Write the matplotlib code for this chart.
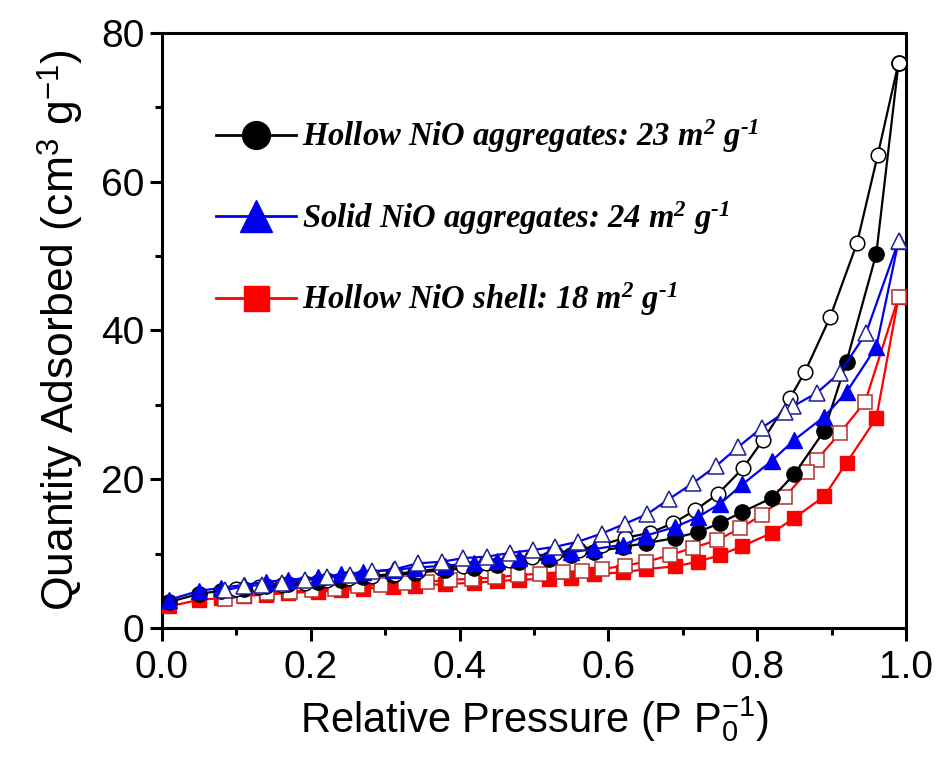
import matplotlib
matplotlib.use("Agg")
import matplotlib.pyplot as plt
from matplotlib.lines import Line2D
from matplotlib.ticker import MultipleLocator, FormatStrFormatter

plt.rcParams['font.family'] = ['Liberation Sans', 'DejaVu Sans']
plt.rcParams['mathtext.fontset'] = 'custom'
plt.rcParams['mathtext.rm'] = 'Liberation Serif:bold:italic'
plt.rcParams['mathtext.it'] = 'Liberation Serif:bold:italic'
plt.rcParams['mathtext.sf'] = 'Liberation Sans'

# adsorption branch, shared pressure points
p_ads = [0.01, 0.05, 0.08, 0.11, 0.14, 0.17, 0.21, 0.24, 0.27, 0.31, 0.34, 0.38,
         0.42, 0.45, 0.48, 0.52, 0.55, 0.58, 0.62, 0.65, 0.69, 0.72, 0.75, 0.78,
         0.82, 0.85, 0.89, 0.92, 0.96, 0.99]

hollow_agg_ads = [3.5, 4.6, 5.0, 5.3, 5.6, 5.9, 6.2, 6.5, 6.8, 7.1, 7.4, 7.8,
                  8.1, 8.5, 8.9, 9.3, 9.8, 10.2, 10.9, 11.4, 12.1, 12.9, 14.1, 15.6,
                  17.5, 20.7, 26.5, 35.8, 50.3, 76.0]
solid_agg_ads = [3.8, 5.0, 5.4, 5.8, 6.2, 6.5, 6.8, 7.2, 7.5, 7.8, 8.1, 8.4,
                 8.7, 9.0, 9.4, 9.8, 10.2, 10.6, 11.2, 12.4, 13.6, 14.9, 16.7, 19.3,
                 22.5, 25.3, 28.4, 31.7, 37.8, 52.0]
hollow_shell_ads = [2.9, 3.8, 4.0, 4.3, 4.5, 4.7, 4.9, 5.1, 5.3, 5.5, 5.7, 5.9,
                    6.1, 6.3, 6.5, 6.6, 6.7, 7.2, 7.5, 7.9, 8.3, 8.9, 9.8, 11.0,
                    12.8, 14.8, 17.7, 22.2, 28.2, 44.5]

# desorption branches
p_des_hollow_agg = [0.99, 0.962, 0.934, 0.898, 0.864, 0.844, 0.808, 0.781, 0.747, 0.716,
                    0.687, 0.656, 0.622, 0.591, 0.56, 0.528, 0.497, 0.466, 0.436, 0.405,
                    0.375, 0.344, 0.313, 0.282, 0.252, 0.222, 0.192, 0.161, 0.13, 0.10]
hollow_agg_des = [76.0, 63.6, 51.7, 41.8, 34.4, 30.9, 25.3, 21.5, 18.0, 15.8,
                  14.1, 12.8, 12.1, 11.2, 10.5, 10.1, 9.6, 9.2, 8.8, 8.4,
                  8.0, 7.6, 7.3, 7.0, 6.7, 6.4, 6.1, 5.8, 5.5, 5.2]

p_des_solid_agg = [0.99, 0.946, 0.911, 0.880, 0.848, 0.837, 0.806, 0.774, 0.745, 0.714,
                   0.681, 0.652, 0.622, 0.591, 0.559, 0.528, 0.499, 0.468, 0.437, 0.405,
                   0.376, 0.344, 0.313, 0.282, 0.253, 0.222, 0.192, 0.161, 0.135, 0.11, 0.085]
solid_agg_des = [52.0, 39.6, 34.3, 31.6, 29.8, 29.0, 26.9, 24.3, 21.8, 19.5,
                 17.3, 15.3, 14.0, 12.7, 11.6, 10.9, 10.5, 10.1, 9.6, 9.4,
                 8.9, 8.7, 7.9, 7.6, 7.1, 6.8, 6.5, 6.0, 5.8, 5.6, 5.1]

p_des_hollow_shell = [0.99, 0.945, 0.911, 0.880, 0.867, 0.837, 0.806, 0.777, 0.746, 0.714,
                      0.683, 0.651, 0.622, 0.591, 0.565, 0.539, 0.508, 0.478, 0.448, 0.417,
                      0.387, 0.356, 0.327, 0.294, 0.263, 0.233, 0.202, 0.172, 0.141, 0.11, 0.085]
hollow_shell_des = [44.5, 30.4, 26.2, 22.6, 21.0, 17.6, 15.2, 13.4, 11.8, 10.8,
                    9.8, 8.9, 8.4, 7.9, 7.7, 7.5, 7.3, 7.1, 6.8, 6.6,
                    6.5, 6.2, 6.0, 5.8, 5.6, 5.3, 5.1, 4.9, 4.7, 4.3, 3.9]

labels = ['Hollow NiO aggregates: 23 m$^{2}$ g$^{\\text{-1}}$',
          'Solid NiO aggregates: 24 m$^{2}$ g$^{\\text{-1}}$',
          'Hollow NiO shell: 18 m$^{2}$ g$^{\\text{-1}}$']

fig = plt.figure(figsize=(9.36, 7.64), dpi=100)
ax = fig.add_axes([0.173, 0.178, 0.795, 0.779])

lw = 1.6
# hollow shell (red)
ax.plot(p_ads, hollow_shell_ads, '-s', color='#ff0000', lw=lw, ms=9.5,
        mfc='#ff0000', mec='#ff0000', zorder=3)
ax.plot(p_des_hollow_shell, hollow_shell_des, '-s', color='#ff0000', lw=lw, ms=9.5,
        mfc='white', mec='#b03030', mew=1.1, zorder=3)
# hollow aggregates (black)
ax.plot(p_ads, hollow_agg_ads, '-o', color='black', lw=lw, ms=11,
        mfc='black', mec='black', zorder=4)
ax.plot(p_des_hollow_agg, hollow_agg_des, '-o', color='black', lw=lw, ms=10.5,
        mfc='white', mec='black', mew=1.1, zorder=4)
# solid aggregates (blue)
ax.plot(p_ads, solid_agg_ads, '-^', color='#0000ee', lw=lw, ms=12,
        mfc='#0000ee', mec='#0000ee', zorder=5)
ax.plot(p_des_solid_agg, solid_agg_des, '-^', color='#0000ee', lw=lw, ms=12,
        mfc='white', mec='#202090', mew=1.1, zorder=5)

ax.set_xlim(0, 1.0)
ax.set_ylim(0, 80)
ax.xaxis.set_major_locator(MultipleLocator(0.2))
ax.xaxis.set_minor_locator(MultipleLocator(0.1))
ax.yaxis.set_major_locator(MultipleLocator(20))
ax.yaxis.set_minor_locator(MultipleLocator(10))
ax.xaxis.set_major_formatter(FormatStrFormatter('%.1f'))
ax.tick_params(which='both', direction='out', top=False, right=False, width=2.2)
ax.tick_params(which='major', length=9, labelsize=28)
ax.tick_params(axis='x', which='major', pad=7)
ax.tick_params(which='minor', length=5)
for s in ax.spines.values():
    s.set_linewidth(2.2)

ax.set_xlabel('Relative Pressure (P P$_{\\mathsf{0}}^{\\mathsf{-1}}$)', fontsize=30, labelpad=6)
ax.set_ylabel('Quantity Adsorbed (cm$^{\\mathsf{3}}$ g$^{\\mathsf{-1}}$)', fontsize=32, labelpad=12)

handles = [
    Line2D([], [], color='black', lw=2, marker='o', ms=20, mfc='black', mec='black'),
    Line2D([], [], color='#0000ee', lw=2, marker='^', ms=23, mfc='#0000ee', mec='#0000ee'),
    Line2D([], [], color='#ff0000', lw=2, marker='s', ms=18, mfc='#ff0000', mec='#ff0000'),
]
ax.legend(handles, labels, loc='upper left', bbox_to_anchor=(0.055, 0.88),
          frameon=False, handlelength=2.45, handletextpad=0.2, labelspacing=1.35,
          prop={'family': 'Liberation Serif', 'weight': 'bold', 'style': 'italic', 'size': 23.5},
          borderaxespad=0)

fig.savefig('out.png', dpi=100)
